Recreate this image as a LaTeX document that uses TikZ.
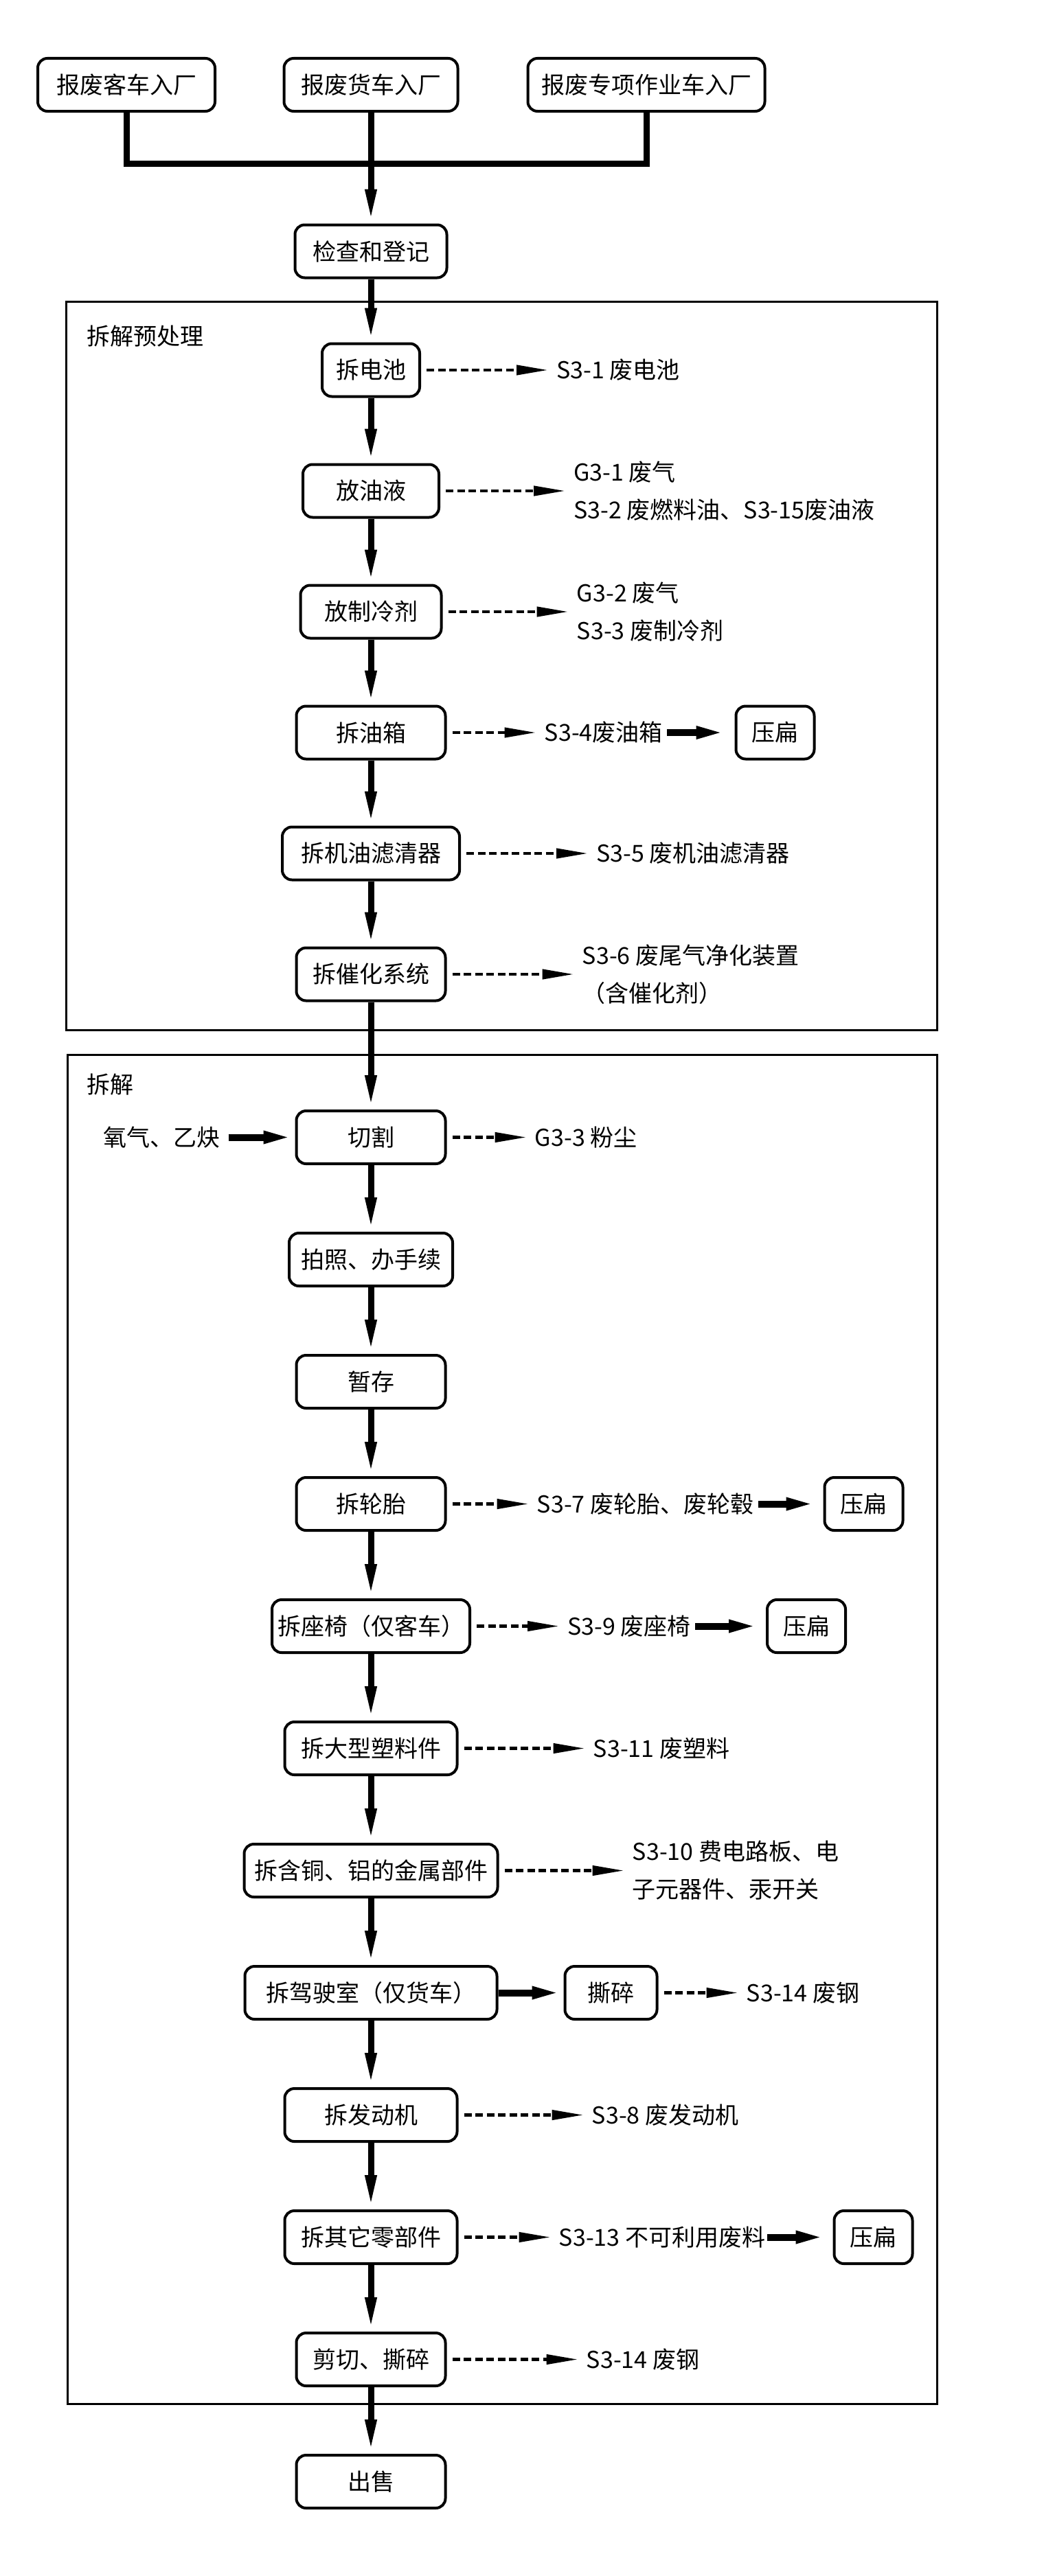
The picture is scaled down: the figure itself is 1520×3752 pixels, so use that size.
\documentclass[tikz,border=0pt]{standalone}
\usepackage{fontspec}
\setmainfont{Noto Sans CJK SC}
\usetikzlibrary{arrows.meta,positioning}
\tikzset{
  basic/.style  = {draw, line width=2pt, rounded corners=7pt, align=center,
    minimum height=38.5pt, inner xsep=4pt, inner ysep=2pt,
    font=\fontsize{17pt}{27.5pt}\selectfont},
  proc/.style   = {basic, minimum width=108.5pt},
  flat/.style   = {basic, minimum width=57pt},
  waste/.style  = {align=left, inner sep=0pt, font=\fontsize{17pt}{27.5pt}\selectfont},
  region/.style = {line width=1.5pt},
  trunk/.style  = {line width=4.5pt},
  flow/.style   = {line width=4.5pt, -{Triangle[length=25pt,width=7.5pt]}},
  emit/.style   = {line width=2.2pt, dash pattern=on 5.5pt off 2.75pt,
    -{Triangle[length=23pt,width=7pt]}, shorten <=4pt, shorten >=6pt},
  feed/.style   = {line width=5pt, -{Triangle[length=23pt,width=8pt]}}
}

\begin{document}
\begin{tikzpicture}[x=0.5pt,y=-0.5pt]
\useasboundingbox (0,0) rectangle (1520,3752);

% entry
\node[basic, minimum width=110.5pt] (jiancha) at (540,366) {检查和登记};
\node[basic, minimum width=126.5pt, above=80.75pt of jiancha] (huoche) {报废货车入厂};
\node[basic, minimum width=129pt, left=48.25pt of huoche] (keche) {报废客车入厂};
\node[basic, minimum width=172.5pt, right=49pt of huoche] (zhuanxiang) {报废专项作业车入厂};
\coordinate (junc) at (540,238);

% pre-treatment
\draw[region] (96,439.5) rectangle (1364,1500);
\node[waste, anchor=west] (pre) at (126,490) {拆解预处理};
\node[basic, minimum width=71pt, below=46pt of jiancha] (dianchi) {拆电池};
\node[basic, minimum width=99pt, below=47.5pt of dianchi] (youye) {放油液};
\node[basic, minimum width=102.5pt, below=47.5pt of youye] (lengji) {放制冷剂};
\node[proc, below=47.5pt of lengji] (youxiang) {拆油箱};
\node[basic, minimum width=129pt, below=47.5pt of youxiang] (lvqing) {拆机油滤清器};
\node[proc, below=47.5pt of lvqing] (cuihua) {拆催化系统};

\node[waste, right=98.5pt of dianchi] (s31) {S3-1 废电池};
\node[waste, right=97pt of youye] (s32) {G3-1 废气\\S3-2 废燃料油、S3-15废油液};
\node[waste, right=97.5pt of lengji] (s33) {G3-2 废气\\S3-3 废制冷剂};
\node[waste, right=71pt of youxiang] (s34) {S3-4废油箱};
\node[flat, right=209.5pt of youxiang] (flat1) {压扁};
\node[waste, right=98.5pt of lvqing] (s35) {S3-5 废机油滤清器};
\node[waste, right=98.5pt of cuihua] (s36) {S3-6 废尾气净化装置\\（含催化剂）};

% dismantling
\draw[region] (98,1536.5) rectangle (1364,3501);
\node[waste, anchor=west] (dis) at (126,1580) {拆解};
\node[proc, below=78.25pt of cuihua] (qiege) {切割};
\node[basic, minimum width=119pt, below=48.5pt of qiege] (paizhao) {拍照、办手续};
\node[proc, below=48.5pt of paizhao] (zancun) {暂存};
\node[proc, below=48.5pt of zancun] (luntai) {拆轮胎};
\node[basic, minimum width=139.5pt, below=48.5pt of luntai] (zuoyi) {拆座椅（仅客车）};
\node[basic, minimum width=125.5pt, below=48.5pt of zuoyi] (suliao) {拆大型塑料件};
\node[basic, minimum width=184.5pt, below=48.5pt of suliao] (jinshu) {拆含铜、铝的金属部件};
\node[basic, minimum width=183.5pt, below=48.5pt of jinshu] (jiashi) {拆驾驶室（仅货车）};
\node[basic, minimum width=125.5pt, below=48.5pt of jiashi] (fadong) {拆发动机};
\node[basic, minimum width=125.5pt, below=48.5pt of fadong] (qita) {拆其它零部件};
\node[proc, below=48.5pt of qita] (jianqie) {剪切、撕碎};
\node[proc, below=48.5pt of jianqie] (chushou) {出售};

\node[waste, left=54.5pt of qiege] (yangqi) {氧气、乙炔};
\node[waste, right=64pt of qiege] (g33) {G3-3 粉尘};
\node[waste, right=65.5pt of luntai] (s37) {S3-7 废轮胎、废轮毂};
\node[flat, right=274pt of luntai] (flat2) {压扁};
\node[waste, right=70pt of zuoyi] (s39) {S3-9 废座椅};
\node[flat, right=214.5pt of zuoyi] (flat3) {压扁};
\node[waste, right=98pt of suliao] (s311) {S3-11 废塑料};
\node[waste, right=97pt of jinshu] (s310) {S3-10 费电路板、电\\子元器件、汞开关};
\node[basic, minimum width=67pt, right=47.5pt of jiashi] (sisui) {撕碎};
\node[waste, right=64pt of sisui] (s314a) {S3-14 废钢};
\node[waste, right=97pt of fadong] (s38) {S3-8 废发动机};
\node[waste, right=73pt of qita] (s313) {S3-13 不可利用废料};
\node[flat, right=272.5pt of qita] (flat4) {压扁};
\node[waste, right=101.5pt of jianqie] (s314b) {S3-14 废钢};

% connectors
\draw[trunk] (keche.south) |- (junc) -| (zhuanxiang.south);
\path[flow] (huoche) edge (jiancha)
  (jiancha) edge (dianchi) (dianchi) edge (youye) (youye) edge (lengji)
  (lengji) edge (youxiang) (youxiang) edge (lvqing) (lvqing) edge (cuihua)
  (cuihua) edge (qiege) (qiege) edge (paizhao) (paizhao) edge (zancun)
  (zancun) edge (luntai) (luntai) edge (zuoyi) (zuoyi) edge (suliao)
  (suliao) edge (jinshu) (jinshu) edge (jiashi) (jiashi) edge (fadong)
  (fadong) edge (qita) (qita) edge (jianqie) (jianqie) edge (chushou);
\path[emit] (dianchi) edge (s31) (youye) edge (s32) (lengji) edge (s33)
  (youxiang) edge (s34) (lvqing) edge (s35) (cuihua) edge (s36)
  (qiege) edge (g33) (luntai) edge (s37) (zuoyi) edge (s39)
  (suliao) edge (s311) (jinshu) edge (s310) (sisui) edge (s314a)
  (fadong) edge (s38) (qita) edge (s313) (jianqie) edge (s314b);
\path[feed] (s34) edge[shorten <=3pt, shorten >=5pt] (flat1)
  (s37) edge[shorten <=3pt, shorten >=4pt] (flat2)
  (s39) edge[shorten <=3pt, shorten >=4pt] (flat3)
  (s313) edge[shorten <=1pt, shorten >=4pt] (flat4)
  (yangqi) edge[shorten <=6pt] (qiege)
  (jiashi) edge (sisui);
\end{tikzpicture}
\end{document}
